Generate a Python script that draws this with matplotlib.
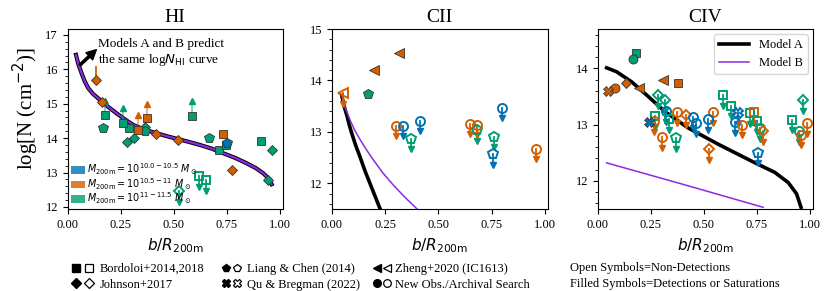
import matplotlib
matplotlib.use('Agg')
import matplotlib.pyplot as plt
from matplotlib.lines import Line2D
from matplotlib.patches import Patch
from matplotlib.legend_handler import HandlerTuple
from matplotlib.ticker import AutoMinorLocator

plt.rcParams['font.family'] = ['Liberation Serif', 'DejaVu Serif']
plt.rcParams['mathtext.fontset'] = 'dejavusans'

# mass bins: 0 = 10^10-10.5, 1 = 10^10.5-11, 2 = 10^11-11.5
mass_colors = ['#0072b2', '#d55e00', '#009e73']
mass_labels = [r'$M_{\rm 200m} = 10^{10.0-10.5}\ M_\odot$',
               r'$M_{\rm 200m} = 10^{10.5-11}\ M_\odot$',
               r'$M_{\rm 200m} = 10^{11-11.5}\ M_\odot$']
# surveys
markers = {'B': 's', 'J': 'D', 'L': 'p', 'Q': 'X', 'Z': '<', 'N': 'o'}
msize = {'B': 6, 'J': 5, 'L': 7, 'Q': 7, 'Z': 6.5, 'N': 6.5}
survey_labels = {'B': 'Bordoloi+2014,2018', 'J': 'Johnson+2017',
                 'L': 'Liang & Chen (2014)', 'Q': 'Qu & Bregman (2022)',
                 'Z': 'Zheng+2020 (IC1613)', 'N': 'New Obs./Archival Search'}

# ---- HI ----
hi_x = [0.132, 0.160, 0.165, 0.290, 0.277, 0.312, 0.365, 0.365, 0.416, 0.521,
        0.666, 0.729, 0.711, 0.745, 0.751, 0.772, 0.908, 0.960, 0.944]
hi_y = [15.69, 15.06, 14.29, 14.29, 13.90, 14.01, 14.33, 14.20, 14.11, 13.95,
        14.00, 14.11, 13.64, 13.80, 13.87, 13.08, 13.93, 13.64, 12.78]
hi_src = ['J', 'J', 'L', 'B', 'J', 'J', 'J', 'L', 'J', 'J',
          'L', 'B', 'B', 'B', 'L', 'J', 'B', 'J', 'J']
hi_mass = [1, 1, 2, 2, 2, 2, 2, 2, 1, 1, 2, 1, 2, 2, 0, 1, 2, 2, 2]
hi_yerr_up = [0.39] + [0] * 18
# saturated (lower limits)
hi_ll_x = [0.176, 0.262, 0.332, 0.372, 0.583]
hi_ll_y = [14.67, 14.45, 14.24, 14.58, 14.65]
hi_ll_src = ['B', 'B', 'B', 'B', 'B']
hi_ll_mass = [2, 2, 1, 1, 2]
# non-detections (upper limits)
hi_ul_x = [0.619, 0.651, 0.524]
hi_ul_y = [12.91, 12.78, 12.47]
hi_ul_src = ['B', 'B', 'J']
hi_ul_mass = [2, 2, 2]
hi_curve_x = [0.039, 0.050, 0.065, 0.080, 0.097, 0.120, 0.152, 0.19, 0.23, 0.27, 0.309,
              0.36, 0.419, 0.47, 0.52, 0.57, 0.623, 0.68, 0.732, 0.79, 0.842, 0.885,
              0.92, 0.945, 0.96]
hi_curve_y = [16.42, 16.15, 15.89, 15.65, 15.45, 15.28, 15.11, 14.91, 14.72, 14.54, 14.38,
              14.25, 14.14, 14.05, 13.97, 13.89, 13.80, 13.69, 13.56, 13.42, 13.27, 13.13,
              12.98, 12.83, 12.66]

# ---- CII ----
cii_x = [0.313, 0.196, 0.172]
cii_y = [14.53, 14.21, 13.73]
cii_src = ['Z', 'Z', 'L']
cii_mass = [1, 1, 2]
cii_ul_x = [0.052, 0.303, 0.334, 0.372, 0.412, 0.646, 0.679, 0.682, 0.760, 0.757, 0.797, 0.957]
cii_ul_y = [13.75, 13.12, 13.12, 12.86, 13.21, 13.16, 13.03, 13.13, 12.90, 12.56, 13.47, 12.67]
cii_ul_src = ['Z', 'N', 'N', 'L', 'N', 'N', 'L', 'N', 'L', 'L', 'N', 'N']
cii_ul_mass = [1, 1, 0, 2, 0, 1, 2, 1, 2, 0, 0, 1]
cii_a_x = [0.047, 0.058, 0.071, 0.082, 0.094, 0.113, 0.133, 0.156, 0.18, 0.204, 0.227]
cii_a_y = [13.71, 13.50, 13.32, 13.14, 12.97, 12.73, 12.51, 12.24, 11.99, 11.74, 11.50]
cii_b_x = [0.047, 0.063, 0.086, 0.108, 0.133, 0.163, 0.196, 0.24, 0.29, 0.345, 0.40]
cii_b_y = [13.71, 13.47, 13.23, 13.03, 12.85, 12.65, 12.45, 12.20, 11.96, 11.72, 11.50]

# ---- CIV ----
civ_x = [0.179, 0.168, 0.309, 0.379, 0.133, 0.194, 0.081, 0.050, 0.243]
civ_y = [14.28, 14.16, 13.79, 13.74, 13.74, 13.65, 13.65, 13.59, 13.05]
civ_src = ['B', 'N', 'Z', 'B', 'J', 'Z', 'N', 'Q', 'Q']
civ_mass = [2, 2, 1, 1, 1, 1, 1, 1, 0]
civ_ul_x = [0.285, 0.317, 0.270, 0.265, 0.321, 0.335, 0.375, 0.417, 0.450, 0.463,
            0.541, 0.520, 0.301, 0.368, 0.525, 0.588, 0.627, 0.662, 0.646, 0.678,
            0.717, 0.736, 0.751, 0.764, 0.776, 0.756, 0.913, 0.965, 0.949, 0.955, 0.986]
civ_ul_y = [13.53, 13.43, 13.15, 13.06, 13.24, 13.10, 13.22, 13.18, 13.13, 13.03,
            13.22, 13.10, 12.78, 12.76, 12.57, 13.53, 13.34, 13.20, 13.05, 13.00,
            13.20, 13.22, 13.06, 12.94, 12.88, 12.50, 13.09, 13.43, 12.88, 12.82, 13.03]
civ_ul_src = ['J', 'J', 'B', 'N', 'N', 'B', 'N', 'J', 'N', 'N',
              'N', 'N', 'N', 'L', 'J', 'B', 'B', 'Q', 'N', 'N',
              'B', 'B', 'B', 'N', 'J', 'L', 'B', 'J', 'N', 'N', 'N']
civ_ul_mass = [2, 2, 2, 1, 0, 2, 1, 1, 0, 0,
               1, 0, 1, 2, 1, 2, 2, 0, 0, 1,
               2, 1, 2, 2, 1, 0, 2, 2, 2, 1, 1]
civ_a_x = [0.042, 0.089, 0.16, 0.238, 0.317, 0.426, 0.568, 0.725, 0.834, 0.897, 0.936, 0.957]
civ_a_y = [14.01, 13.94, 13.76, 13.50, 13.23, 12.94, 12.65, 12.35, 12.15, 11.97, 11.77, 11.53]
civ_b_x = [0.042, 0.40, 0.779]
civ_b_y = [12.32, 11.94, 11.53]

purple = '#8a2be2'


def detections(ax, xs, ys, src, mass):
    for x, y, s, m in zip(xs, ys, src, mass):
        ax.plot(x, y, marker=markers[s], ms=msize[s], mfc=mass_colors[m],
                mec='0.2', mew=0.6, ls='none', zorder=5)


def lower_limits(ax, xs, ys, src, mass, d):
    for x, y, s, m in zip(xs, ys, src, mass):
        c = mass_colors[m]
        ax.plot([x, x], [y, y + d], color=c, lw=1.5, alpha=0.45, zorder=3)
        ax.plot(x, y + d, marker='^', ms=5, color=c, ls='none', zorder=3)
    detections(ax, xs, ys, src, mass)


def upper_limits(ax, xs, ys, src, mass, d):
    for x, y, s, m in zip(xs, ys, src, mass):
        c = mass_colors[m]
        ax.plot([x, x], [y, y - d], color=c, lw=1.3, zorder=3)
        ax.plot(x, y - d, marker='v', ms=5, color=c, ls='none', zorder=3)
        ax.plot(x, y, marker=markers[s], ms=msize[s], mfc='none', mec=c,
                mew=1.4, ls='none', zorder=4)


fig = plt.figure(figsize=(8.3, 2.91), dpi=100)
W, H = 830., 291.
ax1 = fig.add_axes([67.7 / W, 82 / H, 215 / W, 180 / H])
ax2 = fig.add_axes([331.7 / W, 82 / H, 216 / W, 180 / H])
ax3 = fig.add_axes([597.7 / W, 82 / H, 215 / W, 180 / H])

# HI
ax1.plot(hi_curve_x, hi_curve_y, color='k', lw=3.0, zorder=2)
ax1.plot(hi_curve_x, hi_curve_y, color=purple, lw=1.6, zorder=2)
for x, y, e, m in zip(hi_x, hi_y, hi_yerr_up, hi_mass):
    if e > 0:
        ax1.plot([x, x], [y, y + e], color=mass_colors[m], lw=1.3, zorder=3)
detections(ax1, hi_x, hi_y, hi_src, hi_mass)
lower_limits(ax1, hi_ll_x, hi_ll_y, hi_ll_src, hi_ll_mass, 0.42)
upper_limits(ax1, hi_ul_x, hi_ul_y, hi_ul_src, hi_ul_mass, 0.32)
ax1.set_ylim(11.94, 17.17)
ax1.set_yticks([12, 13, 14, 15, 16, 17])
ax1.annotate('', xy=(0.135, 16.57), xytext=(0.057, 16.12),
             arrowprops=dict(facecolor='black', edgecolor='black', width=1.6,
                             headwidth=7, headlength=7, shrink=0))
ax1.text(0.142, 16.47, 'Models A and B predict\nthe same log$N_{\\rm HI}$ curve',
         fontsize=9.5, ha='left', va='center', linespacing=1.12)
ax1.legend([Patch(facecolor=c, alpha=0.8) for c in mass_colors], mass_labels,
           loc='lower left', frameon=False, fontsize=6.9, handlelength=1.55,
           handleheight=0.85, handletextpad=0.15, labelspacing=-0.12,
           borderaxespad=0.1, borderpad=0.2)
ax1.set_ylabel(r'log[N (cm$^{-2}$)]', fontsize=15)
ax1.yaxis.set_label_coords(-0.125, 0.56)
ax1.set_title('HI', fontsize=14, pad=5)

# CII
ax2.plot(cii_a_x, cii_a_y, color='k', lw=2.6, zorder=2)
ax2.plot(cii_b_x, cii_b_y, color=purple, lw=1.1, zorder=2)
detections(ax2, cii_x, cii_y, cii_src, cii_mass)
upper_limits(ax2, cii_ul_x, cii_ul_y, cii_ul_src, cii_ul_mass, 0.2)
ax2.set_ylim(11.5, 15)
ax2.set_yticks([12, 13, 14, 15])
ax2.set_title('CII', fontsize=14, pad=5)

# CIV
ax3.plot(civ_a_x, civ_a_y, color='k', lw=2.6, zorder=2, label='Model A')
ax3.plot(civ_b_x, civ_b_y, color=purple, lw=1.1, zorder=2, label='Model B')
detections(ax3, civ_x, civ_y, civ_src, civ_mass)
upper_limits(ax3, civ_ul_x, civ_ul_y, civ_ul_src, civ_ul_mass, 0.19)
ax3.set_ylim(11.5, 14.7)
ax3.set_yticks([12, 13, 14])
ax3.legend(loc='upper right', fontsize=9, handlelength=2.4, borderaxespad=0.4)
ax3.set_title('CIV', fontsize=14, pad=5)

for ax in (ax1, ax2, ax3):
    ax.set_xlim(0, 1.012)
    ax.set_xticks([0, 0.25, 0.5, 0.75, 1.0])
    ax.set_xticklabels(['0.00', '0.25', '0.50', '0.75', '1.00'])
    ax.yaxis.set_minor_locator(AutoMinorLocator())
    ax.tick_params(labelsize=9)
    ax.set_xlabel(r'$b/R_{\rm 200m}$', fontsize=11)

# bottom key
def pair(s):
    m = markers[s]
    return (Line2D([], [], marker=m, color='k', ls='none', ms=5.5),
            Line2D([], [], marker=m, mfc='none', mec='k', ls='none', ms=5.5, mew=0.9))

cols = [(['B', 'J'], 69.5, 2.1), (['L', 'Q'], 221, 1.75), (['Z', 'N'], 371.5, 1.6)]
for keys, x0, hl in cols:
    fig.legend([pair(k) for k in keys], [survey_labels[k] for k in keys],
               handler_map={tuple: HandlerTuple(ndivide=None, pad=0)},
               loc='upper left', bbox_to_anchor=(x0 / W, 28 / H), frameon=False,
               fontsize=9, handlelength=hl, handletextpad=0.3, labelspacing=0.3,
               borderpad=0, borderaxespad=0)
fig.text(570 / W, 1 - 268 / H, 'Open Symbols=Non-Detections', fontsize=9, va='center')
fig.text(570 / W, 1 - 284 / H, 'Filled Symbols=Detections or Saturations', fontsize=9, va='center')

fig.savefig('out.png', dpi=100)
